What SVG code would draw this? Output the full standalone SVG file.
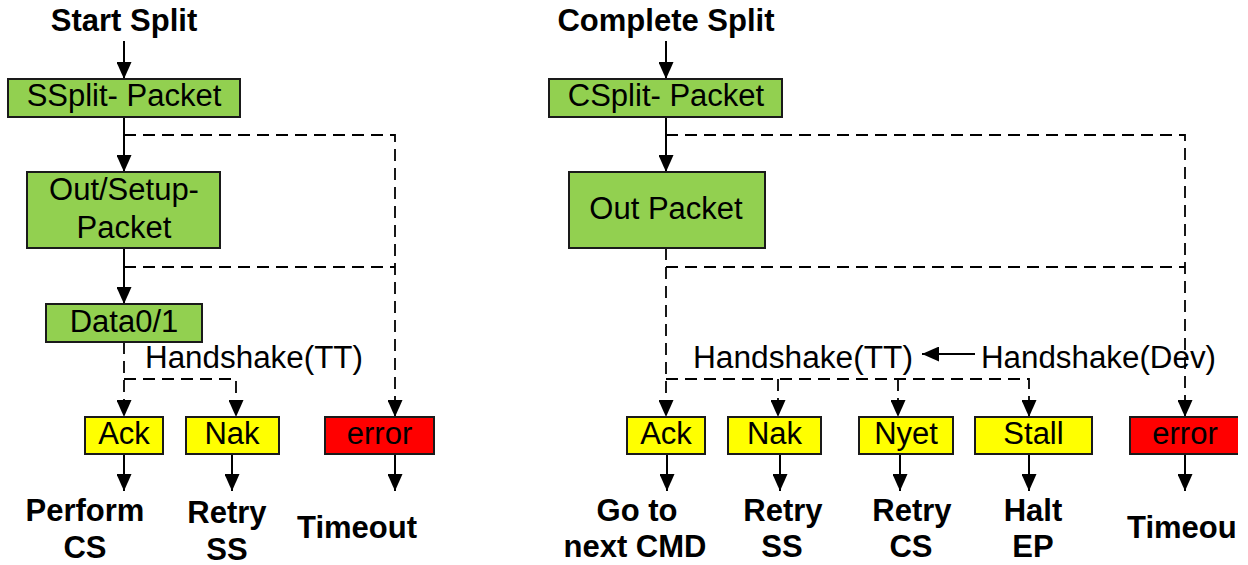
<svg xmlns="http://www.w3.org/2000/svg" width="1248" height="565" viewBox="0 0 1248 565">
<style>
  .t { font-family: "Liberation Sans", Arial, sans-serif; font-size: 31px; fill: #000; }
  .b { font-weight: bold; }
  .c { text-anchor: middle; }
  .g { fill: #92D050; stroke: #1a1a1a; stroke-width: 2; }
  .y { fill: #FFFF00; stroke: #1a1a1a; stroke-width: 2; }
  .r { fill: #FF0000; stroke: #1a1a1a; stroke-width: 2; }
  .ln { fill: none; stroke: #000; stroke-width: 2; }
  .ds { fill: none; stroke: #000; stroke-width: 1.8; stroke-dasharray: 12 7; }
</style>
<defs>
  <marker id="ah" markerUnits="userSpaceOnUse" markerWidth="17" markerHeight="15" refX="17" refY="7.5" orient="auto">
    <path d="M0,0 L17,7.5 L0,15 z" fill="#000"/>
  </marker>
  <clipPath id="edge"><rect x="0" y="0" width="1238" height="565"/></clipPath>
</defs>
<rect width="1248" height="565" fill="#fff"/>

<g id="connectors">
  <path class="ln" d="M124,41 V79" marker-end="url(#ah)"/>
  <path class="ln" d="M124,117 V172" marker-end="url(#ah)"/>
  <path class="ln" d="M124,248 V304" marker-end="url(#ah)"/>
  <path class="ds" d="M124,135 H395 V417" marker-end="url(#ah)"/>
  <path class="ds" d="M124,267 H395"/>
  <path class="ds" d="M124,342 V417" marker-end="url(#ah)"/>
  <path class="ds" d="M124,379 H236 V417" marker-end="url(#ah)"/>
  <path class="ln" d="M124,454 V491" marker-end="url(#ah)"/>
  <path class="ln" d="M232,454 V491" marker-end="url(#ah)"/>
  <path class="ln" d="M395,454 V491" marker-end="url(#ah)"/>

  <path class="ln" d="M666,41 V79" marker-end="url(#ah)"/>
  <path class="ln" d="M666,117 V172" marker-end="url(#ah)"/>
  <path class="ds" d="M666,135 H1185 V417" marker-end="url(#ah)"/>
  <path class="ds" d="M666,267 H1185"/>
  <path class="ds" d="M666,248 V417" marker-end="url(#ah)"/>
  <path class="ds" d="M666,379 H1029 V417" marker-end="url(#ah)"/>
  <path class="ds" d="M778,379 V417" marker-end="url(#ah)"/>
  <path class="ds" d="M898,379 V417" marker-end="url(#ah)"/>
  <path class="ln" d="M975,354 H922" marker-end="url(#ah)"/>
  <path class="ln" d="M667,454 V491" marker-end="url(#ah)"/>
  <path class="ln" d="M780,454 V491" marker-end="url(#ah)"/>
  <path class="ln" d="M900,454 V491" marker-end="url(#ah)"/>
  <path class="ln" d="M1029,454 V491" marker-end="url(#ah)"/>
  <path class="ln" d="M1185,454 V491" marker-end="url(#ah)"/>
</g>

<g id="start-split"><text class="t b c" x="124" y="31">Start Split</text></g>
<g id="ssplit-packet">
  <rect class="g" x="8" y="79" width="232" height="38"/>
  <text class="t c" x="124" y="106">SSplit- Packet</text>
</g>
<g id="out-setup-packet">
  <rect class="g" x="27" y="172" width="193" height="76"/>
  <text class="t c" x="124" y="200">Out/Setup-</text>
  <text class="t c" x="124" y="238">Packet</text>
</g>
<g id="data01">
  <rect class="g" x="46" y="304" width="156" height="38"/>
  <text class="t c" x="124" y="332">Data0/1</text>
</g>
<g id="handshake-tt-left"><text class="t" x="145" y="368" textLength="218" lengthAdjust="spacingAndGlyphs">Handshake(TT)</text></g>
<g id="ack-left">
  <rect class="y" x="85" y="417" width="78" height="37"/>
  <text class="t c" x="124" y="444">Ack</text>
</g>
<g id="nak-left">
  <rect class="y" x="186" y="417" width="93" height="37"/>
  <text class="t c" x="232" y="444">Nak</text>
</g>
<g id="error-left">
  <rect class="r" x="325" y="417" width="109" height="37"/>
  <text class="t c" x="379.5" y="444">error</text>
</g>
<g id="perform-cs">
  <text class="t b c" x="85" y="521">Perform</text>
  <text class="t b c" x="85" y="558">CS</text>
</g>
<g id="retry-ss-left">
  <text class="t b c" x="227" y="523">Retry</text>
  <text class="t b c" x="227" y="560">SS</text>
</g>
<g id="timeout-left"><text class="t b c" x="357" y="538">Timeout</text></g>

<g id="complete-split"><text class="t b c" x="666" y="31">Complete Split</text></g>
<g id="csplit-packet">
  <rect class="g" x="549" y="79" width="233" height="38"/>
  <text class="t c" x="666" y="106">CSplit- Packet</text>
</g>
<g id="out-packet">
  <rect class="g" x="569" y="172" width="196" height="76"/>
  <text class="t c" x="666" y="219">Out Packet</text>
</g>
<g id="handshake-tt-right"><text class="t" x="693" y="368" textLength="220" lengthAdjust="spacingAndGlyphs">Handshake(TT)</text></g>
<g id="handshake-dev"><text class="t" x="981" y="368" textLength="235" lengthAdjust="spacingAndGlyphs">Handshake(Dev)</text></g>
<g id="ack-right">
  <rect class="y" x="627" y="417" width="78" height="37"/>
  <text class="t c" x="666" y="444">Ack</text>
</g>
<g id="nak-right">
  <rect class="y" x="728" y="417" width="93" height="37"/>
  <text class="t c" x="774.5" y="444">Nak</text>
</g>
<g id="nyet">
  <rect class="y" x="859" y="417" width="94" height="37"/>
  <text class="t c" x="906" y="444">Nyet</text>
</g>
<g id="stall">
  <rect class="y" x="975" y="417" width="117" height="37"/>
  <text class="t c" x="1033.5" y="444">Stall</text>
</g>
<g id="error-right" clip-path="url(#edge)">
  <rect class="r" x="1130" y="417" width="109" height="37"/>
  <text class="t c" x="1185" y="444">error</text>
</g>
<g id="go-to-next-cmd">
  <text class="t b c" x="637" y="521">Go to</text>
  <text class="t b c" x="635" y="557">next CMD</text>
</g>
<g id="retry-ss-right">
  <text class="t b c" x="783" y="521">Retry</text>
  <text class="t b c" x="782" y="557">SS</text>
</g>
<g id="retry-cs">
  <text class="t b c" x="912" y="521">Retry</text>
  <text class="t b c" x="911" y="557">CS</text>
</g>
<g id="halt-ep">
  <text class="t b c" x="1033" y="521">Halt</text>
  <text class="t b c" x="1033" y="557">EP</text>
</g>
<g id="timeout-right" clip-path="url(#edge)"><text class="t b" x="1127" y="538">Timeou</text></g>
</svg>
